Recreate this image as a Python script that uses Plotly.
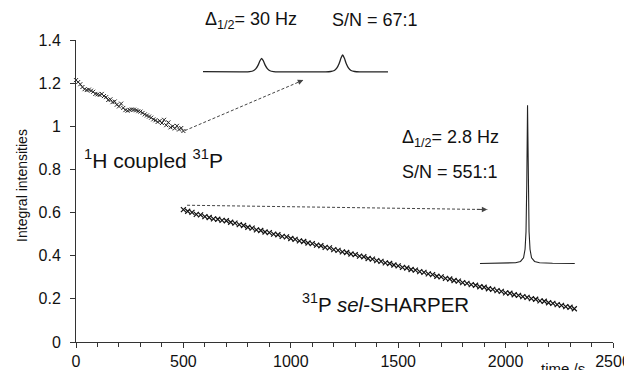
import plotly.graph_objects as go

# ---------------- data ----------------
coupled_t = list(range(0, 501, 10))
coupled_v = [1.214, 1.205, 1.195, 1.182, 1.172, 1.168, 1.170, 1.165, 1.160, 1.150,
             1.148, 1.145, 1.150, 1.140, 1.135, 1.122, 1.125, 1.112, 1.115, 1.100,
             1.092, 1.105, 1.085, 1.075, 1.072, 1.076, 1.078, 1.077, 1.074, 1.070,
             1.068, 1.062, 1.055, 1.050, 1.045, 1.040, 1.032, 1.028, 1.020, 1.025,
             1.015, 1.030, 1.005, 1.018, 0.995, 1.000, 0.990, 1.002, 0.985, 0.992,
             0.978]

sharper_t = list(range(500, 2321, 20))
sharper_v = [0.614, 0.606, 0.601, 0.592, 0.589, 0.581, 0.577, 0.571, 0.569, 0.564,
             0.562, 0.555, 0.551, 0.544, 0.540, 0.532, 0.528, 0.520, 0.517, 0.510,
             0.507, 0.500, 0.497, 0.490, 0.487, 0.480, 0.476, 0.469, 0.466, 0.459,
             0.456, 0.449, 0.446, 0.439, 0.436, 0.428, 0.425, 0.418, 0.415, 0.408,
             0.405, 0.398, 0.395, 0.387, 0.384, 0.377, 0.374, 0.367, 0.364, 0.357,
             0.353, 0.346, 0.343, 0.336, 0.333, 0.326, 0.323, 0.316, 0.312, 0.305,
             0.302, 0.295, 0.292, 0.285, 0.282, 0.275, 0.272, 0.266, 0.263, 0.256,
             0.254, 0.247, 0.244, 0.238, 0.235, 0.228, 0.226, 0.219, 0.216, 0.210,
             0.207, 0.201, 0.198, 0.191, 0.189, 0.182, 0.179, 0.173, 0.170, 0.164,
             0.161, 0.154]

# inset spectrum 1 (1H coupled doublet)
spec1_x = [0, 0.2, 0.225, 0.252, 0.272, 0.285, 0.298, 0.308, 0.317, 0.326, 0.336,
           0.349, 0.362, 0.382, 0.409, 0.55, 0.663, 0.69, 0.71, 0.723, 0.736,
           0.746, 0.755, 0.764, 0.774, 0.787, 0.800, 0.820, 0.847, 1.0]
spec1_y = [0.01, 0.0, 0.0, 0.02, 0.08, 0.22, 0.5, 0.82, 1.0, 0.82, 0.5,
           0.22, 0.08, 0.02, 0.0, 0.0, 0.0, 0.025, 0.1, 0.27, 0.62,
           1.02, 1.25, 1.02, 0.62, 0.27, 0.1, 0.025, 0.0, 0.0]

# inset spectrum 2 (sel-SHARPER singlet)
spec2_x = [0.0, 0.24, 0.376, 0.428, 0.46, 0.476, 0.486, 0.494, 0.498, 0.502,
           0.506, 0.510, 0.518, 0.528, 0.544, 0.576, 0.628, 0.765, 1.0]
spec2_y = [0.0, 0.002, 0.005, 0.013, 0.036, 0.09, 0.2, 0.5, 0.8, 1.0,
           0.8, 0.5, 0.2, 0.09, 0.036, 0.013, 0.005, 0.002, 0.0]

y_ticks = [0, 0.2, 0.4, 0.6, 0.8, 1.0, 1.2, 1.4]
x_ticks = [0, 500, 1000, 1500, 2000, 2500]

# arrows (data coordinates: start -> end)
arrow1 = [(507, 0.98), (1058, 1.214)]
arrow2 = [(517, 0.634), (1915, 0.614)]

FONT = "Liberation Sans, Arial, sans-serif"
INK = "#111111"

fig = go.Figure()

fig.add_trace(go.Scatter(
    x=coupled_t, y=coupled_v, mode="markers", cliponaxis=False,
    marker=dict(symbol="x-thin", size=4, line=dict(width=1, color="#222")),
    showlegend=False))
fig.add_trace(go.Scatter(
    x=sharper_t, y=sharper_v, mode="markers", cliponaxis=False,
    marker=dict(symbol="x-thin", size=5, line=dict(width=1.2, color=INK)),
    showlegend=False))

fig.add_trace(go.Scatter(
    x=spec1_x, y=spec1_y, mode="lines", xaxis="x2", yaxis="y2",
    line=dict(color="#222", width=1.3, shape="spline", smoothing=0.6),
    showlegend=False))
fig.add_trace(go.Scatter(
    x=spec2_x, y=spec2_y, mode="lines", xaxis="x3", yaxis="y3",
    line=dict(color="#222", width=1.1),
    showlegend=False))

shapes = []
annotations = []
for (x0, y0), (x1, y1) in (arrow1, arrow2):
    shapes.append(dict(type="line", xref="x", yref="y", x0=x0, y0=y0, x1=x1, y1=y1,
                       line=dict(color="#444", width=1, dash="3px,2px")))
    annotations.append(dict(x=x1, y=y1, ax=x1 - 0.04 * (x1 - x0), ay=y1 - 0.04 * (y1 - y0),
                            xref="x", yref="y", axref="x", ayref="y", text="",
                            showarrow=True, arrowhead=2, arrowsize=1.1,
                            arrowwidth=1, arrowcolor="#444"))

def txt(s, x, y, size=18, xanchor="left", yanchor="middle", **kw):
    annotations.append(dict(text=s, x=x, y=y, xref="paper", yref="paper",
                            xanchor=xanchor, yanchor=yanchor, showarrow=False,
                            font=dict(family=FONT, size=size, color=INK), **kw))

txt("Δ<sub>1/2</sub>= 30 Hz", 0.2365, 1.065)
txt("S/N = 67:1", 0.473, 1.065)
txt("Δ<sub>1/2</sub>= 2.8 Hz", 0.6034, 0.675)
txt("S/N = 551:1", 0.6034, 0.5635)
txt("<sup>1</sup>H coupled <sup>31</sup>P", 0.0106, 0.605, size=21)
txt("<sup>31</sup>P <i>sel</i>-SHARPER", 0.4171, 0.13, size=20.5)
txt("time /s", 0.862, -0.053, size=15, yanchor="top")
txt("Integral intensities", -0.1006, 0.52, size=14, xanchor="center", textangle=-90)

# The page body adds an 8 px offset; the figure is sized so the plot area
# lands at the same window pixels as the reference.
fig.update_layout(
    width=624, height=362, autosize=False,
    margin=dict(l=68, r=19, t=32, b=28, autoexpand=False),
    paper_bgcolor="white", plot_bgcolor="white",
    font=dict(family=FONT, size=16, color=INK),
    shapes=shapes, annotations=annotations,
    xaxis=dict(range=[0, 2500], tickvals=x_ticks, ticks="outside", ticklen=5,
               tickcolor="#333", showline=True, linecolor="#333", linewidth=1,
               showgrid=False, zeroline=False,
               minor=dict(dtick=100, ticks="outside", ticklen=4, tickcolor="#333"),
               tickfont=dict(size=16)),
    yaxis=dict(range=[0, 1.4], tickvals=y_ticks, ticks="outside", ticklen=5,
               tickcolor="#333", showline=True, linecolor="#333", linewidth=1,
               showgrid=False, zeroline=False, tickfont=dict(size=16),
               ticklabelstandoff=6),
    xaxis2=dict(domain=[0.2365, 0.581], range=[0, 1], visible=False, anchor="y2"),
    yaxis2=dict(domain=[0.867, 1.0], range=[-0.62, 2.366], visible=False, anchor="x2"),
    xaxis3=dict(domain=[0.752, 0.929], range=[0, 1], visible=False, anchor="y3"),
    yaxis3=dict(domain=[0.24, 0.80], range=[-0.038, 1.03], visible=False, anchor="x3"),
)

fig.write_html("out.html")
